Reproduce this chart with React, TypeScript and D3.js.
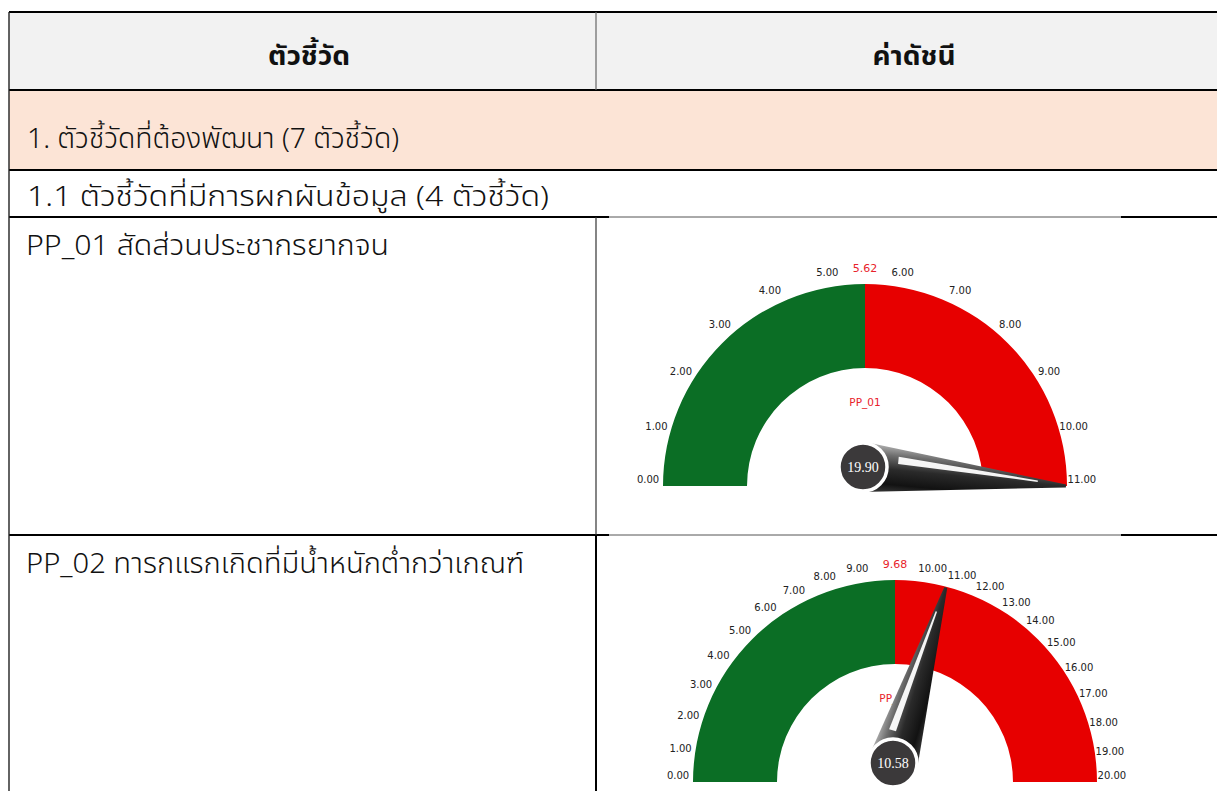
import React from 'react';
import * as d3 from 'd3';

// table texts
const headerLabels = ['ตัวชี้วัด', 'ค่าดัชนี'];
const sectionTitle = '1. ตัวชี้วัดที่ต้องพัฒนา (7 ตัวชี้วัด)';
const subSectionTitle = '1.1 ตัวชี้วัดที่มีการผกผันข้อมูล (4 ตัวชี้วัด)';

// gauge data
const indicatorCodes = ['PP_01', 'PP_02'];
const indicatorNames = ['สัดส่วนประชากรยากจน', 'ทารกแรกเกิดที่มีน้ำหนักต่ำกว่าเกณฑ์'];
const gaugeMax = [11, 20];
const gaugeTargets = [5.62, 9.68];
const gaugeValues = [19.9, 10.58];

const W = 1217;
const H = 791;
const GREEN = '#0b6e25';
const RED = '#e70000';
const THAI = "'Noto Sans Thai', 'Noto Sans Thai UI', 'Noto Sans', sans-serif";
const TICK_FONT = "'DejaVu Sans', sans-serif";

// layout of the table (row edges, columns)
const LEFT = 9;
const COL = 596;
const IMG_L = 609;
const IMG_R = 1121;
const rowEdges = [12, 90, 170, 217, 535, H];
const gaugeCenters = [
  { cx: 865, cy: 486 },
  { cx: 895, cy: 782 },
];
const rowTextWidths = [363, 498];

const deg = Math.PI / 180;

function Gauge({ i, cx, cy }: { i: number; cx: number; cy: number }) {
  const max = gaugeMax[i];
  const target = gaugeTargets[i];
  const value = gaugeValues[i];
  const rOut = 202;
  const rIn = 118;
  const rLab = 217;
  const gap = 10 * deg;

  // left half holds [0, target], right half [target, max];
  // the whole ticks next to the target keep some room around the target label
  const lo = Math.floor(target);
  const hi = Math.ceil(target);
  const angle = d3
    .scaleLinear()
    .domain([0, lo, target, hi, max])
    .range([Math.PI, Math.PI / 2 + gap, Math.PI / 2, Math.PI / 2 - gap, 0])
    .clamp(true);
  const ticks = d3.range(0, max + 1);

  const arc = d3.arc<any>().innerRadius(rIn).outerRadius(rOut);
  const toD3 = (th: number) => Math.PI / 2 - th;
  const greenPath = arc({ startAngle: toD3(angle(0)), endAngle: toD3(angle(target)) });
  const redPath = arc({ startAngle: toD3(angle(target)), endAngle: toD3(angle(max)) });

  // needle
  const th = angle(value);
  const hx = cx - 2;
  const hy = cy - 19;
  const tx = cx + (rOut - 1) * Math.cos(th);
  const ty = cy - (rOut - 1) * Math.sin(th);
  const len = Math.hypot(tx - hx, ty - hy);
  const ux = (tx - hx) / len;
  const uy = (ty - hy) / len;
  const lx = uy;
  const ly = -ux;
  const w0 = 25;
  const w1 = 1.5;
  const P = (d: number, f: number) => {
    const w = w0 + ((w1 - w0) * d) / len;
    return [hx + ux * d + lx * w * f, hy + uy * d + ly * w * f] as [number, number];
  };
  const line = d3.line().curve(d3.curveLinearClosed);
  const bodyPath = line([P(0, 1), P(len, 1), P(len, -1), P(0, -1)]);
  const stripePath = line([P(len * 0.17, 0.64), P(len * 0.86, 0.6), P(len * 0.86, 0.3), P(len * 0.17, 0.3)]);
  const gid = `needle-grad-${i}`;

  const labelPos = (t: number) => {
    const a = Math.min(178.4 * deg, Math.max(1.6 * deg, angle(t)));
    return [cx + rLab * Math.cos(a), cy - rLab * Math.sin(a)];
  };

  return (
    <g>
      <defs>
        <linearGradient
          id={gid}
          gradientUnits="userSpaceOnUse"
          x1={hx + lx * w0}
          y1={hy + ly * w0}
          x2={hx - lx * w0}
          y2={hy - ly * w0}
        >
          <stop offset="0" stopColor="#b5b5b5" />
          <stop offset="0.22" stopColor="#6e6e6e" />
          <stop offset="0.5" stopColor="#2a2a2a" />
          <stop offset="0.8" stopColor="#121212" />
          <stop offset="1" stopColor="#3c3c3c" />
        </linearGradient>
      </defs>
      <g transform={`translate(${cx},${cy})`}>
        <path d={greenPath as string} fill={GREEN} />
        <path d={redPath as string} fill={RED} />
      </g>
      {ticks.map((t) => {
        const [x, y] = labelPos(t);
        return (
          <text
            key={t}
            x={x}
            y={y}
            textAnchor="middle"
            dominantBaseline="central"
            fontFamily={TICK_FONT}
            fontSize={10}
            fill="#222"
          >
            {d3.format('.2f')(t)}
          </text>
        );
      })}
      <text
        x={cx}
        y={cy - rLab - 1}
        textAnchor="middle"
        dominantBaseline="central"
        fontFamily={TICK_FONT}
        fontSize={11}
        fill="#e8222a"
      >
        {d3.format('.2f')(target)}
      </text>
      <text
        x={cx}
        y={cy - 84}
        textAnchor="middle"
        dominantBaseline="central"
        fontFamily={TICK_FONT}
        fontSize={10.5}
        fill="#e8222a"
      >
        {indicatorCodes[i]}
      </text>
      <path d={bodyPath as string} fill={`url(#${gid})`} />
      <path d={stripePath as string} fill="#ffffff" opacity={0.95} />
      <circle cx={hx} cy={hy} r={24} fill="#3b393a" stroke="#ffffff" strokeWidth={3.5} />
      <text
        x={hx}
        y={hy}
        textAnchor="middle"
        dominantBaseline="central"
        fontFamily="'Liberation Serif', serif"
        fontSize={14}
        fill="#ffffff"
      >
        {d3.format('.2f')(value)}
      </text>
    </g>
  );
}

export default function App() {
  const [yTop, yHead, ySec, ySub, yRow1, yEnd] = rowEdges;
  return (
    <svg
      width={W}
      height={H}
      viewBox={`0 0 ${W} ${H}`}
      style={{ position: 'absolute', left: 0, top: 0, background: '#fff' }}
    >
      {/* header and section fills */}
      <rect x={LEFT} y={yTop} width={W - LEFT} height={yHead - yTop} fill="#f2f2f2" />
      <rect x={LEFT} y={yHead} width={W - LEFT} height={ySec - yHead} fill="#fce4d6" />

      {/* gauges */}
      {gaugeCenters.map((c, i) => (
        <Gauge key={i} i={i} cx={c.cx} cy={c.cy} />
      ))}

      {/* grid lines */}
      <line x1={LEFT} x2={W} y1={yTop} y2={yTop} stroke="#000" strokeWidth={2.2} />
      <line x1={LEFT} x2={W} y1={yHead} y2={yHead} stroke="#000" strokeWidth={2.2} />
      <line x1={LEFT} x2={W} y1={ySec} y2={ySec} stroke="#000" strokeWidth={2.2} />
      {[ySub, yRow1].map((y) => (
        <g key={y}>
          <line x1={LEFT} x2={IMG_L} y1={y} y2={y} stroke="#000" strokeWidth={2.2} />
          <line x1={IMG_L} x2={IMG_R} y1={y} y2={y} stroke="#555" strokeWidth={1} />
          <line x1={IMG_R} x2={W} y1={y} y2={y} stroke="#000" strokeWidth={2.2} />
        </g>
      ))}
      <line x1={LEFT} x2={LEFT} y1={yTop} y2={yEnd} stroke="#222" strokeWidth={1.4} />
      <line x1={COL} x2={COL} y1={yTop} y2={yHead} stroke="#666" strokeWidth={1.2} />
      <line x1={COL} x2={COL} y1={ySub} y2={yRow1} stroke="#333" strokeWidth={1.2} />
      <line x1={COL} x2={COL} y1={yRow1} y2={yEnd} stroke="#000" strokeWidth={2} />

      {/* header labels */}
      <text x={309} y={65} textAnchor="middle" fontFamily={THAI} fontSize={27} fontWeight="bold" fill="#111" textLength={82} lengthAdjust="spacingAndGlyphs">
        {headerLabels[0]}
      </text>
      <text x={914} y={65} textAnchor="middle" fontFamily={THAI} fontSize={27} fontWeight="bold" fill="#111" textLength={83} lengthAdjust="spacingAndGlyphs">
        {headerLabels[1]}
      </text>

      {/* section rows */}
      <text x={27} y={148} fontFamily={THAI} fontSize={28} fontWeight={300} textLength={372} lengthAdjust="spacingAndGlyphs" fill="#111">
        {sectionTitle}
      </text>
      <text x={27} y={206} fontFamily={THAI} fontSize={28} fontWeight={300} textLength={522} lengthAdjust="spacingAndGlyphs" fill="#111">
        {subSectionTitle}
      </text>

      {/* indicator rows */}
      {indicatorCodes.map((code, i) => (
        <text
          key={code}
          x={26}
          y={(i === 0 ? ySub : yRow1) + 38}
          fontFamily={THAI}
          fontSize={28}
          fontWeight={300}
          textLength={rowTextWidths[i]}
          lengthAdjust="spacingAndGlyphs"
          fill="#111"
        >
          {`${code} ${indicatorNames[i]}`}
        </text>
      ))}
    </svg>
  );
}
